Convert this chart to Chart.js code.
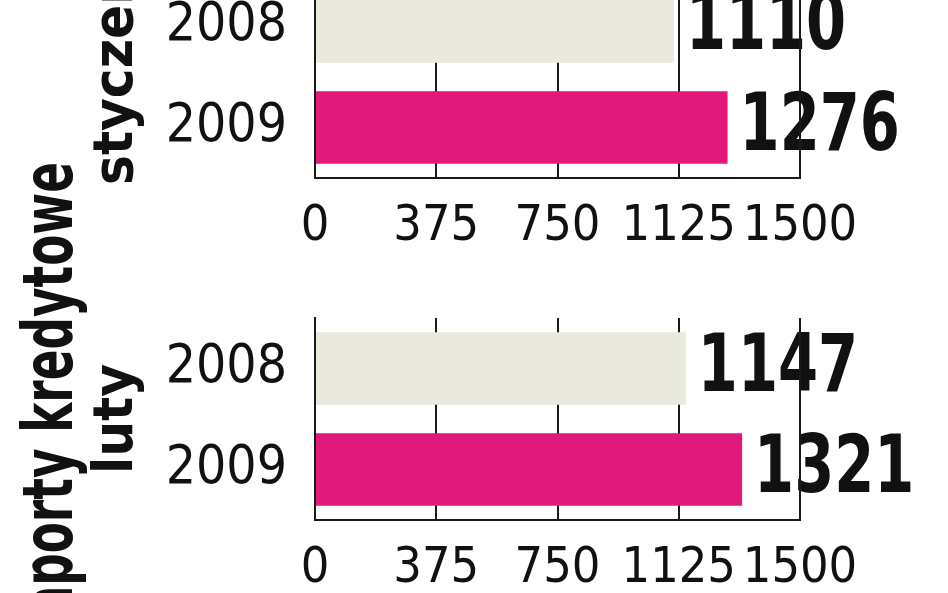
<!DOCTYPE html>
<html><head><meta charset="utf-8">
<script src="https://cdn.jsdelivr.net/npm/chart.js@4.4.0/dist/chart.umd.min.js"></script>
<style>
html,body{margin:0;padding:0;background:#fff;overflow:hidden;width:948px;height:593px;position:relative;}
.wrap{position:absolute;left:0;width:948px;height:593px;}
#w1{top:-342px;}
#w2{top:0;}
#big{position:absolute;left:13px;top:666px;width:700px;height:70px;text-align:right;transform-origin:0 0;
 transform:rotate(-90deg) scaleX(0.72);white-space:nowrap;
 font-family:'DejaVu Sans Condensed','DejaVu Sans',sans-serif;font-weight:bold;font-size:70px;line-height:70px;color:#111;}
</style></head>
<body>
<div class="wrap" id="w1"><canvas id="c1" width="948" height="593"></canvas></div>
<div class="wrap" id="w2"><canvas id="c2" width="948" height="593"></canvas></div>
<div id="big">raporty kredytowe</div>
<script>
const years = ['2008', '2009'];
const januaryValues = [1110, 1276];
const februaryValues = [1147, 1321];
const xTickValues = [0, 375, 750, 1125, 1500];
const monthLabels = ['styczeń', 'luty'];
const barColors = ['#E9E9DD', '#E0197A'];

const FONT = "'DejaVu Sans Condensed','DejaVu Sans',sans-serif";

// value labels drawn first so the grid lines pass over them, as in the reference
const valueLabels = {
  id: 'valueLabels',
  beforeDraw(chart) {
    const ctx = chart.ctx;
    const meta = chart.getDatasetMeta(0);
    const data = chart.data.datasets[0].data;
    ctx.save();
    ctx.font = 'bold 80px ' + FONT;
    ctx.fillStyle = '#111';
    ctx.textBaseline = 'middle';
    ctx.textAlign = 'left';
    meta.data.forEach((bar, i) => {
      ctx.save();
      ctx.translate(bar.x + 12, bar.y + 2);
      ctx.scale(0.8, 1);
      ctx.fillText(String(data[i]), 0, 0);
      ctx.restore();
    });
    ctx.restore();
  }
};

function makeChart(id, values, month) {
  return new Chart(document.getElementById(id), {
    type: 'bar',
    data: {
      labels: years,
      datasets: [{
        data: values,
        backgroundColor: barColors,
        borderWidth: 0,
        barPercentage: 0.72,
        categoryPercentage: 1
      }]
    },
    options: {
      indexAxis: 'y',
      responsive: false,
      animation: false,
      devicePixelRatio: 1,
      layout: { padding: { top: 318, right: 148, bottom: 0, left: 0 } },
      plugins: { legend: { display: false }, tooltip: { enabled: false } },
      scales: {
        x: {
          min: 0, max: 1500,
          afterBuildTicks: s => { s.ticks = xTickValues.map(v => ({ value: v })); },
          afterFit: s => { s.height = 73; },
          grid: { color: '#1a1a1a', lineWidth: 2, drawTicks: false },
          border: { display: true, color: '#1a1a1a', width: 2 },
          ticks: { color: '#111', padding: 19, autoSkip: false, maxRotation: 0, minRotation: 0,
                   callback: v => String(v),
                   font: { family: FONT, size: 50 } }
        },
        y: {
          afterFit: s => { s.width = 315; },
          grid: { display: false, drawTicks: false },
          border: { display: true, color: '#1a1a1a', width: 2 },
          ticks: { color: '#111', padding: 28, font: { family: FONT, size: 53 } },
          title: { display: true, text: month, color: '#111', padding: { top: 84, bottom: 0 },
                   font: { family: FONT, size: 56, weight: 'bold' } }
        }
      }
    },
    plugins: [valueLabels]
  });
}

makeChart('c1', januaryValues, monthLabels[0]);
makeChart('c2', februaryValues, monthLabels[1]);
</script>
</body></html>
